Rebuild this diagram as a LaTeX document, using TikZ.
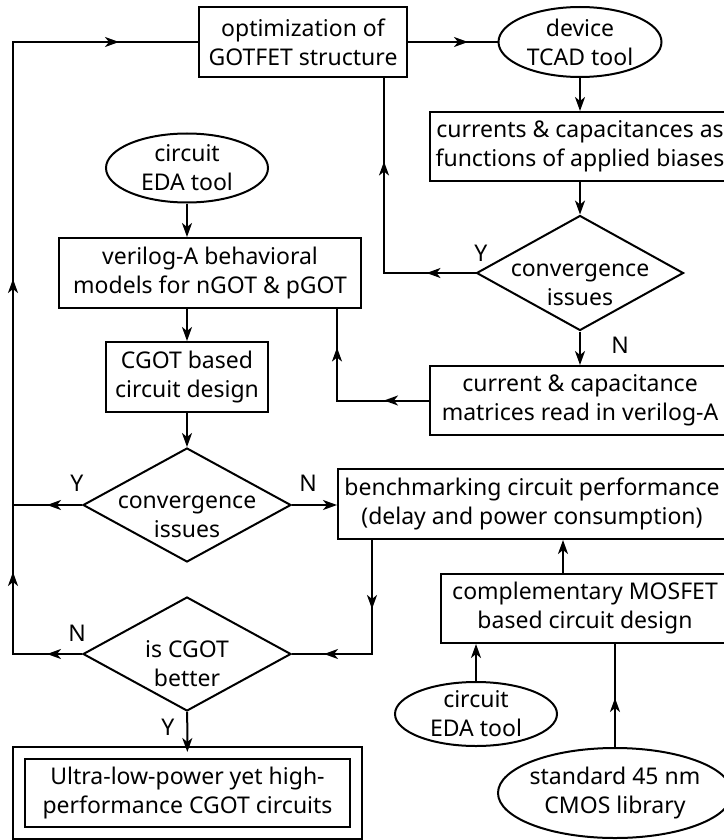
\documentclass[tikz,border=0pt]{standalone}
\usepackage{fontspec}
\setmainfont{Noto Sans}
\usetikzlibrary{shapes.geometric, arrows.meta, decorations.markings}

\begin{document}
\begin{tikzpicture}[
    x=1pt, y=-1pt,
    >={Stealth[length=14pt, width=10pt, inset=4pt]},
    every node/.style={font=\fontsize{23}{29}\selectfont},
    box/.style={rectangle, draw, line width=2pt, align=center, inner sep=0pt, minimum height=70pt},
    tool/.style={ellipse, draw, line width=2pt, align=center, inner xsep=-4pt, inner ysep=-6pt},
    decision/.style={diamond, draw, line width=2pt, align=center, aspect=1.8, inner sep=-14pt, text height=66pt, minimum width=208pt, minimum height=114pt},
    arrow/.style={->, line width=2pt},
    line/.style={line width=2pt},
    tipat/.style={postaction={decorate, decoration={markings, mark=at position #1 with {\arrow{>}}}}},
    yn/.style={inner sep=0pt}
]
\useasboundingbox (0,0) rectangle (723,840);

% device side
\node[box, minimum width=208pt] (opt) at (303,42) {optimization of\\GOTFET structure};
\node[tool, minimum width=163pt, minimum height=70pt] (dev) at (580,42) {device\\TCAD tool};
\node[box, minimum width=300pt, minimum height=69pt] (curr) at (580,146.5) {currents \& capacitances as\\functions of applied biases};
\node[decision, minimum width=207pt, minimum height=115pt] (conv1) at (580,273) {convergence\\issues};
\node[box, minimum width=300pt, minimum height=69pt] (mat) at (580,400.5) {current \& capacitance\\matrices read in verilog-A};

% circuit side
\node[tool, minimum width=162pt, minimum height=69pt] (eda1) at (187,168) {circuit\\EDA tool};
\node[box, minimum width=302pt] (vlog) at (210,273) {verilog-A behavioral\\models for nGOT \& pGOT};
\node[box, minimum width=162pt] (cgot) at (187,377) {CGOT based\\circuit design};
\node[decision] (conv2) at (187,505) {convergence\\issues};
\node[box, minimum width=388pt] (bench) at (532,504) {benchmarking circuit performance\\(delay and power consumption)};
\node[box, minimum width=288pt, minimum height=69pt] (cmos) at (585,608.5) {complementary MOSFET\\based circuit design};
\node[decision] (better) at (187,654) {is CGOT\\better};
\node[box, double, double distance=10pt, minimum width=337pt, minimum height=80pt] (final) at (187.5,793) {Ultra-low-power yet high-\\performance CGOT circuits};
\node[tool, minimum width=162pt, minimum height=64pt] (eda2) at (476,714) {circuit\\EDA tool};
\node[tool, minimum width=234pt, minimum height=90pt] (lib) at (615,793) {standard 45 nm\\CMOS library};

% Y / N labels
\node[yn] (y1) at (481,253) {Y};
\node[yn] (n1) at (620,345) {N};
\node[yn] (y2) at (77,483) {Y};
\node[yn] (n2) at (308,483) {N};
\node[yn] (n3) at (77,633) {N};
\node[yn] (y3) at (168,727) {Y};

% bends
\coordinate (lt) at (13,42);
\coordinate (lb) at (13,654);
\coordinate (c1) at (384,273);
\coordinate (c2) at (337,400.5);
\coordinate (c3) at (372,654);
\coordinate (c4) at (563,560);

\draw[line, tipat=60pt] (opt) -- (dev);
\draw[arrow] (dev) -- (curr);
\draw[arrow] (curr) -- (conv1);
\draw[arrow] (conv1) -- (mat);
\draw[line, tipat=49pt, tipat=203pt] (conv1.west) -- (c1) -- (c1 |- opt.south);
\draw[line, tipat=45pt, tipat=145pt] (mat.west) -- (c2) -- (c2 |- vlog.south);

\draw[arrow] (eda1.south) -- (eda1.south |- vlog.north);
\draw[arrow] (vlog.south -| cgot.north) -- (cgot.north);
\draw[arrow] (cgot) -- (conv2);
\draw[arrow] (conv2.east) -- (conv2.east -| bench.west);
\draw[line, tipat=35pt] (conv2.west) -- (conv2.west -| lb);
\draw[line, tipat=35pt, tipat=151pt, tipat=444pt, tipat=787pt] (better.west) -- (lb) -- (lt) -- (opt.west);
\draw[line, tipat=69pt, tipat=162pt] (bench.south -| c3) -- (c3) -- (better.east);
\draw[arrow] (c4 |- cmos.north) -- (c4 |- bench.south);
\draw[arrow] (eda2) -- (eda2 |- cmos.south);
\draw[line, tipat=49pt] (lib) -- (lib |- cmos.south);
\draw[arrow] (better) -- (final);

\end{tikzpicture}
\end{document}
